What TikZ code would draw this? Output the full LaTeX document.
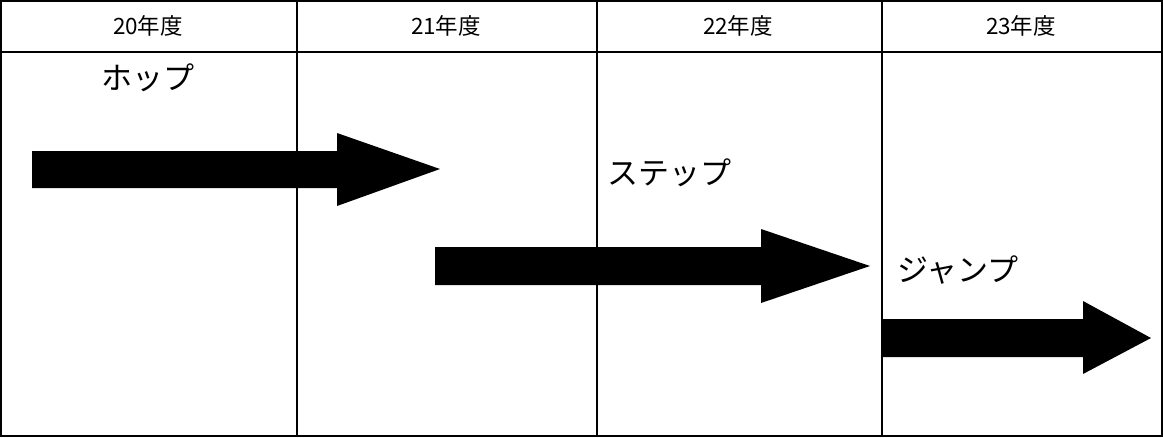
\documentclass[tikz,border=0pt]{standalone}
\usepackage{fontspec}
\setmainfont{Noto Sans CJK JP}
\begin{document}
\begin{tikzpicture}[x=1pt,y=-1pt,
  grid/.style={line width=2.2pt,black},
  arrowshape/.style={fill=black},
  head/.style={font=\fontsize{22.5}{26}\selectfont,anchor=center,inner sep=0pt},
  lbl/.style={font=\fontsize{31}{35}\selectfont,anchor=center,inner sep=0pt}]
\useasboundingbox (0,0) rectangle (1163,437);
\fill[white] (0,0) rectangle (1163,437);
% table
\draw[grid] (1,1) rectangle (1162,436);
\draw[grid] (1,52) -- (1162,52);
\draw[grid] (297,1) -- (297,436);
\draw[grid] (597,1) -- (597,436);
\draw[grid] (882,1) -- (882,436);
% headers
\node[head] (h20) at (148,26) {20年度};
\node[head] (h21) at (446,26) {21年度};
\node[head] (h22) at (738,26) {22年度};
\node[head] (h23) at (1021,26) {23年度};
% labels
\node[lbl] (hop) at (148,78) {ホップ};
\node[lbl] (step) at (669,173) {ステップ};
\node[lbl] (jump) at (958,270) {ジャンプ};
% arrows
\fill[arrowshape] (32,151) -- (337,151) -- (337,133) -- (440,169) -- (337,206) -- (337,188) -- (32,188) -- cycle;
\fill[arrowshape] (435,247) -- (761,247) -- (761,229) -- (870,266) -- (761,303) -- (761,285) -- (435,285) -- cycle;
\fill[arrowshape] (883,319) -- (1083,319) -- (1083,301) -- (1151,338) -- (1083,374) -- (1083,357) -- (883,357) -- cycle;
\end{tikzpicture}
\end{document}
